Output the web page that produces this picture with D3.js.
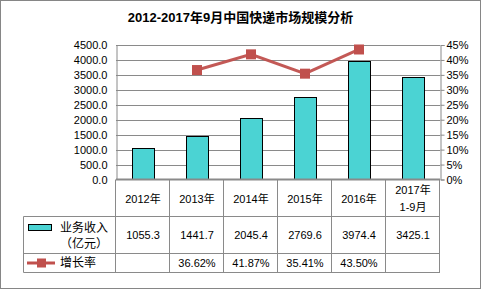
<!DOCTYPE html>
<html><head><meta charset="utf-8">
<script src="https://cdn.jsdelivr.net/npm/d3@7"></script>
<style>body{margin:0;background:#fff}svg{display:block}</style>
</head><body>
<script>
const categories = ["2012年","2013年","2014年","2015年","2016年","2017年\n1-9月"];
const revenue = [1055.3,1441.7,2045.4,2769.6,3974.4,3425.1];
const growth = [null,36.62,41.87,35.41,43.50,null];
const revenueLabels = ["1055.3","1441.7","2045.4","2769.6","3974.4","3425.1"];
const growthLabels = ["","36.62%","41.87%","35.41%","43.50%",""];
const leftTicks = [0,500,1000,1500,2000,2500,3000,3500,4000,4500];
const rightTicks = [0,5,10,15,20,25,30,35,40,45];
const title = "2012-2017年9月中国快递市场规模分析";
const seriesNames = ["业务收入","（亿元）","增长率"];

const W=481,H=289;
const L=116,R=440,T=45,B=179.5;
const font = "'Liberation Sans','Noto Sans CJK SC',sans-serif";
const grid="#8a8a8a";
const svg=d3.select("body").append("svg").attr("width",W).attr("height",H).style("font-family",font);
svg.append("rect").attr("x",0.5).attr("y",0.5).attr("width",W-1).attr("height",H-1).attr("fill","#fff").attr("stroke","#868686");

svg.append("text").attr("x",240.5).attr("y",22).attr("text-anchor","middle").attr("font-size",13).attr("font-weight","bold").attr("fill","#000").text(title);

const x=d3.scaleBand().domain(d3.range(categories.length)).range([L,R]).paddingInner(0).paddingOuter(0);
const yL=d3.scaleLinear().domain([0,4500]).range([B,T]);
const yR=d3.scaleLinear().domain([0,45]).range([B,T]);

// grid
svg.append("g").selectAll("line").data(leftTicks.slice(1)).join("line")
 .attr("x1",L).attr("x2",R).attr("y1",d=>Math.round(yL(d))+0.5).attr("y2",d=>Math.round(yL(d))+0.5).attr("stroke",grid).attr("stroke-width",1);

// left axis
const ga=svg.append("g").attr("transform",`translate(${L+0.5},0)`).call(d3.axisLeft(yL).tickValues(leftTicks).tickFormat(d3.format(".1f")).tickSize(0).tickPadding(9));
ga.select(".domain").attr("stroke",grid);
ga.selectAll("text").attr("font-size",11).attr("fill","#000").attr("font-family",font);
// right axis
const gr=svg.append("g").attr("transform",`translate(${R+0.5},0)`).call(d3.axisRight(yR).tickValues(rightTicks).tickFormat(d=>d+"%").tickSize(4).tickPadding(2));
gr.select(".domain").attr("stroke",grid);
gr.selectAll("line").attr("stroke",grid);
gr.selectAll("text").attr("font-size",11).attr("fill","#000").attr("font-family",font);

// bars
const bw=22;
svg.append("g").selectAll("rect").data(revenue).join("rect")
 .attr("x",(d,i)=>Math.round(x(i)+x.bandwidth()/2-bw/2)+0.5).attr("width",bw)
 .attr("y",d=>Math.round(yL(d))+0.5).attr("height",d=>B-Math.round(yL(d))-0.5)
 .attr("fill","#4BD3D3").attr("stroke","#000").attr("stroke-width",1);

// zero line
svg.append("line").attr("x1",L).attr("x2",R).attr("y1",B).attr("y2",B).attr("stroke",grid).attr("stroke-width",2);

// growth line
const pts=growth.map((g,i)=>({g,i})).filter(d=>d.g!=null);
svg.append("path").datum(pts).attr("fill","none").attr("stroke","#C0504D").attr("stroke-width",3).attr("opacity",0.95)
 .attr("d",d3.line().x(d=>x(d.i)+x.bandwidth()/2).y(d=>yR(d.g)));
svg.append("g").selectAll("rect").data(pts).join("rect")
 .attr("x",d=>x(d.i)+x.bandwidth()/2-5).attr("y",d=>yR(d.g)-5).attr("width",10).attr("height",10).attr("fill","#C0504D");

// table
const row1=216.5,row2=253.5,row3=272.5,tL=23.5;
const tg=svg.append("g").attr("stroke",grid).attr("stroke-width",1);
tg.append("line").attr("x1",tL).attr("x2",R).attr("y1",row1).attr("y2",row1);
tg.append("line").attr("x1",tL).attr("x2",R).attr("y1",row2).attr("y2",row2);
tg.append("line").attr("x1",tL).attr("x2",R).attr("y1",row3).attr("y2",row3);
tg.append("line").attr("x1",tL).attr("x2",tL).attr("y1",row1).attr("y2",row3);
tg.selectAll(".v").data(d3.range(categories.length+1)).join("line")
 .attr("x1",i=>Math.round(L+i*x.bandwidth())-0.5).attr("x2",i=>Math.round(L+i*x.bandwidth())-0.5)
 .attr("y1",B).attr("y2",row3);

const tx=svg.append("g").attr("font-size",11).attr("fill","#000").attr("text-anchor","middle");
categories.forEach((c,i)=>{
  const lines=c.split("\n"); const cx=x(i)+x.bandwidth()/2;
  if(lines.length===1) tx.append("text").attr("x",cx).attr("y",203).text(c);
  else { tx.append("text").attr("x",cx).attr("y",194).text(lines[0]); tx.append("text").attr("x",cx).attr("y",211).text(lines[1]); }
  tx.append("text").attr("x",cx).attr("y",239).text(revenueLabels[i]);
  tx.append("text").attr("x",cx).attr("y",267).text(growthLabels[i]);
});

// legend
svg.append("rect").attr("x",28.5).attr("y",224.5).attr("width",23).attr("height",6).attr("fill","#4BD3D3").attr("stroke","#000");
svg.append("text").attr("x",60).attr("y",232).attr("font-size",12).text(seriesNames[0]);
svg.append("text").attr("x",60).attr("y",248).attr("font-size",12).text(seriesNames[1]);
svg.append("line").attr("x1",27).attr("x2",55).attr("y1",263).attr("y2",263).attr("stroke","#C0504D").attr("stroke-width",3);
svg.append("rect").attr("x",37).attr("y",258.5).attr("width",9).attr("height",9).attr("fill","#C0504D");
svg.append("text").attr("x",60).attr("y",267).attr("font-size",12).text(seriesNames[2]);
</script>
</body></html>
